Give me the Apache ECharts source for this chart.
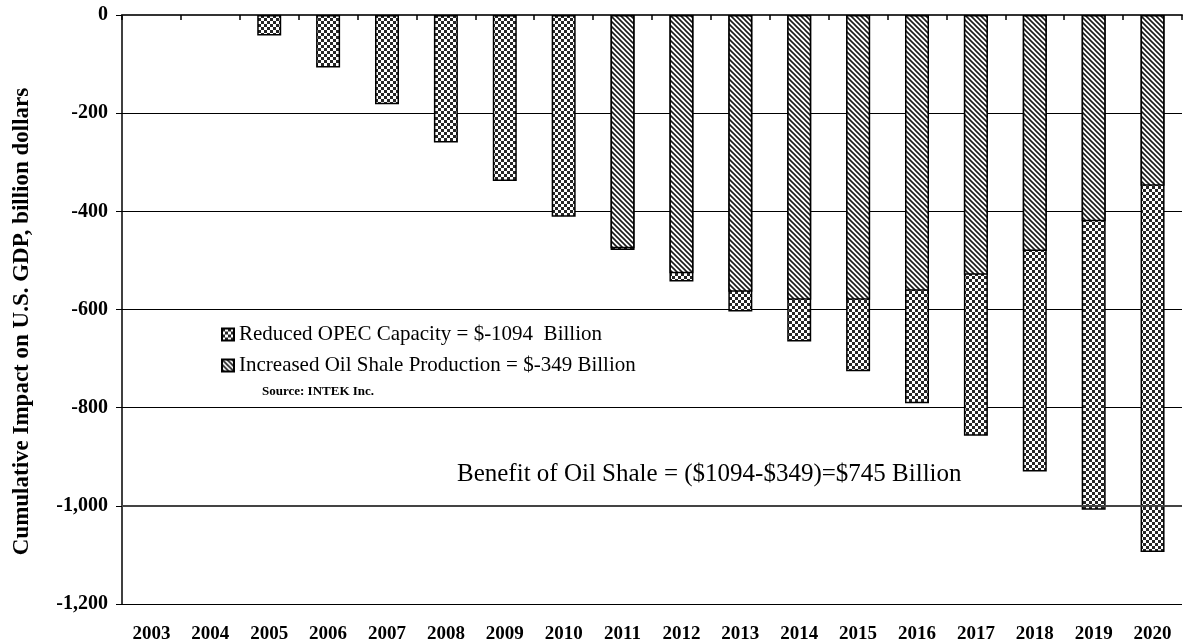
<!DOCTYPE html>
<html>
<head>
<meta charset="utf-8">
<script src="https://cdn.jsdelivr.net/npm/echarts@6/dist/echarts.min.js"></script>
<style>
html,body{margin:0;padding:0;background:#fff;}
#chart{width:1183px;height:640px;}
</style>
</head>
<body>
<div id="chart"></div>
<script>
var years = ['2003','2004','2005','2006','2007','2008','2009','2010','2011','2012','2013','2014','2015','2016','2017','2018','2019','2020'];
var opecValues = [null, null, -42, -107, -182, -260, -338, -411, -479, -543, -604, -665, -726, -791, -857, -930, -1008, -1094];
var shaleValues = [null, null, null, null, null, null, null, null, -475, -526, -564, -580, -580, -562, -529, -481, -420, -348];
var yTicks = [0, -200, -400, -600, -800, -1000, -1200];
var opecName = 'Reduced OPEC Capacity = $-1094  Billion';
var shaleName = 'Increased Oil Shale Production = $-349 Billion';
var sourceText = 'Source: INTEK Inc.';
var noteText = 'Benefit of Oil Shale = ($1094-$349)=$745 Billion';
var yName = 'Cumulative Impact on U.S. GDP, billion dollars';

function checker() {
  var c = document.createElement('canvas');
  c.width = 6; c.height = 6;
  var g = c.getContext('2d');
  g.fillStyle = '#ffffff'; g.fillRect(0, 0, 6, 6);
  g.fillStyle = '#262626';
  g.fillRect(0, 0, 3, 3); g.fillRect(3, 3, 3, 3);
  return c;
}
function hatch() {
  var s = 5;
  var c = document.createElement('canvas');
  c.width = s; c.height = s;
  var g = c.getContext('2d');
  g.fillStyle = '#ffffff'; g.fillRect(0, 0, s, s);
  g.strokeStyle = '#1a1a1a'; g.lineWidth = 1.6;
  g.beginPath();
  g.moveTo(-1, -1); g.lineTo(s + 1, s + 1);
  g.moveTo(-1, s - 1); g.lineTo(1, s + 1);
  g.moveTo(s - 1, -1); g.lineTo(s + 1, 1);
  g.stroke();
  return c;
}
var serif = '"Liberation Serif", "DejaVu Serif", serif';
var chart = echarts.init(document.getElementById('chart'));
chart.setOption({
  animation: false,
  backgroundColor: '#ffffff',
  textStyle: { fontFamily: serif },
  grid: { left: 122, right: 1, top: 15, bottom: 36, containLabel: false, outerBoundsMode: 'none' },
  legend: {
    orient: 'vertical',
    left: 216, top: 319,
    itemWidth: 12, itemHeight: 12, itemGap: 10,
    icon: 'rect',
    textStyle: { fontFamily: serif, fontSize: 21, color: '#000' },
    data: [opecName, shaleName]
  },
  xAxis: [{
    type: 'category', data: years, position: 'top',
    axisLine: { show: true, onZero: false, lineStyle: { color: '#333', width: 2 } },
    axisTick: { show: true, inside: true, length: 5, lineStyle: { color: '#000', width: 1.5 } },
    axisLabel: { show: false }
  }, {
    type: 'category', data: years, position: 'bottom',
    axisLine: { show: false }, axisTick: { show: false },
    axisLabel: { show: true, fontFamily: serif, fontWeight: 'bold', fontSize: 19, color: '#000', margin: 21 }
  }],
  yAxis: {
    type: 'value', min: -1200, max: 0, interval: 200,
    name: yName, nameLocation: 'middle', nameGap: 88, nameRotate: 90,
    nameTextStyle: { fontFamily: serif, fontWeight: 'bold', fontSize: 23, color: '#000', padding: [0, 24, 0, 0] },
    axisLine: { show: true, lineStyle: { color: '#000', width: 1.5 } },
    axisTick: { show: true, length: 6, lineStyle: { color: '#000' } },
    splitLine: { show: true, lineStyle: { color: '#000', width: 1 } },
    axisLabel: {
      fontFamily: serif, fontWeight: 'bold', fontSize: 20, color: '#000', margin: 14,
      formatter: function (v) { return v.toLocaleString('en-US'); }
    }
  },
  series: [{
    name: opecName, type: 'bar', data: opecValues, barWidth: 24, barGap: '-100%',
    itemStyle: { color: { image: checker(), repeat: 'repeat' }, borderColor: '#000', borderWidth: 1.5 },
    markLine: {
      silent: true, symbol: 'none', label: { show: false },
      lineStyle: { color: '#444', width: 2, type: 'solid' },
      data: [{ yAxis: yTicks[5] }]
    }
  }, {
    name: shaleName, type: 'bar', data: shaleValues, barWidth: 24, barGap: '-100%',
    itemStyle: { color: { image: hatch(), repeat: 'repeat' }, borderColor: '#000', borderWidth: 1.5 }
  }],
  graphic: [{
    type: 'text', left: 262, top: 385,
    style: { text: sourceText, font: 'bold 13px ' + serif, fill: '#000' }
  }, {
    type: 'text', left: 457, top: 462,
    style: { text: noteText, font: '25px ' + serif, fill: '#000' }
  }]
});
</script>
</body>
</html>
